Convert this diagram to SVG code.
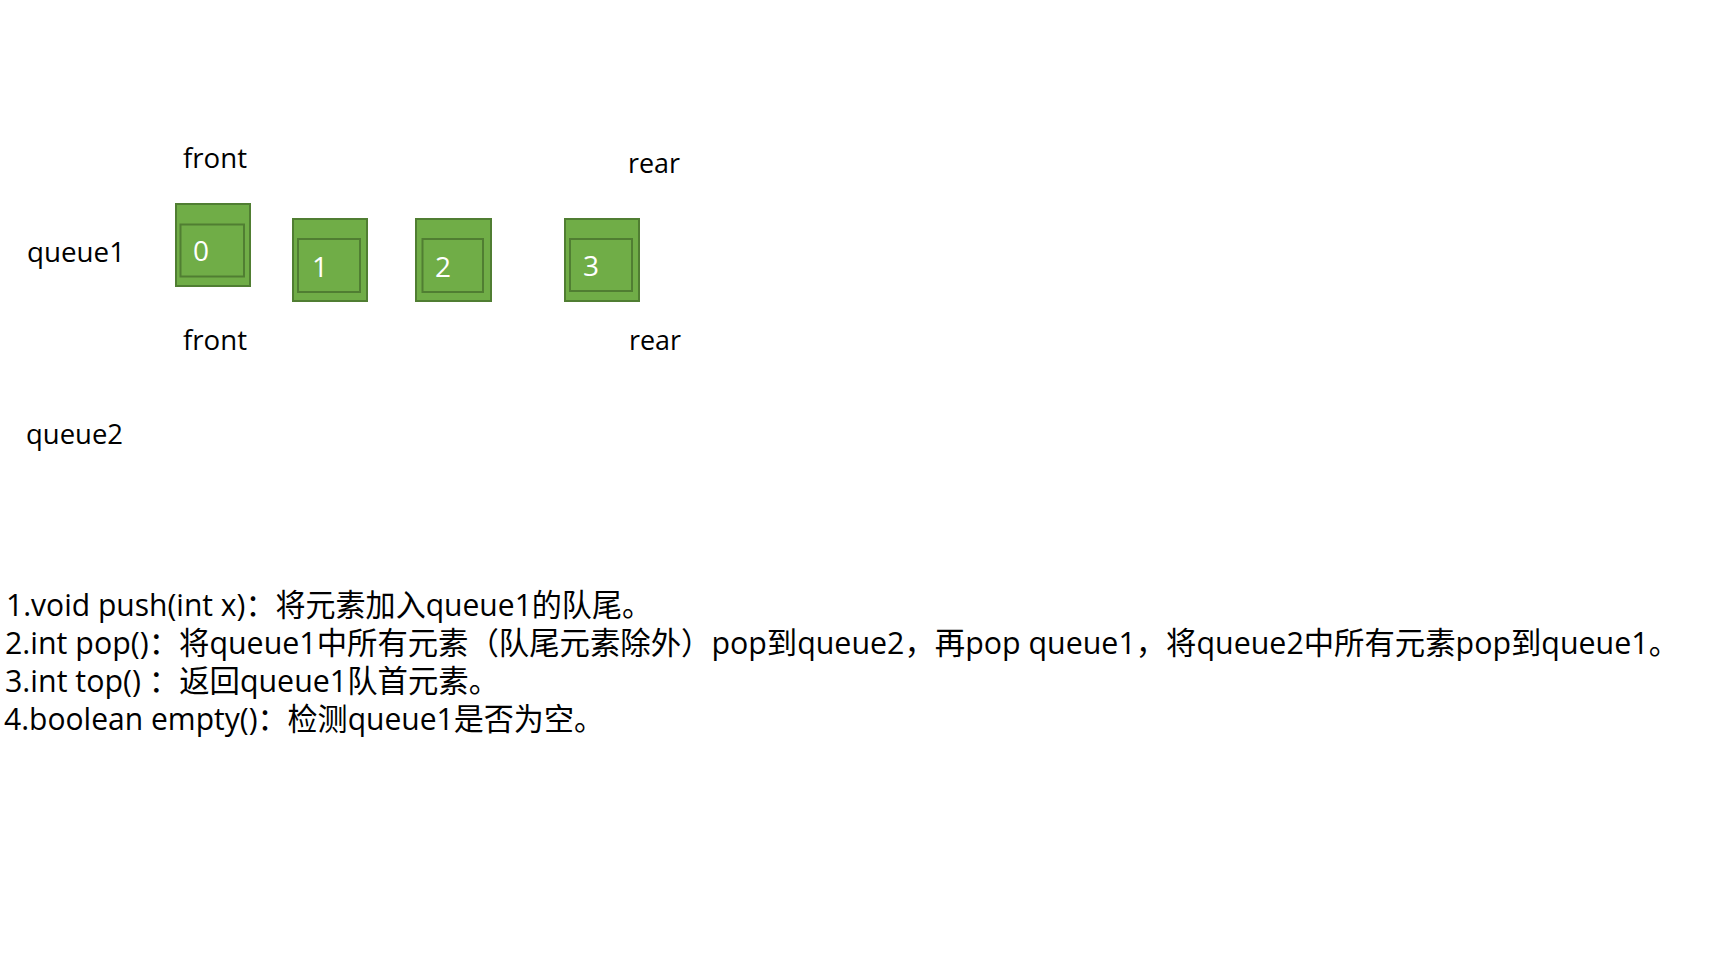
<svg xmlns="http://www.w3.org/2000/svg" width="1714" height="967" viewBox="0 0 1714 967">
<style>
text{font-family:"Open Sans","Noto Sans CJK SC",sans-serif;fill:#000}
.lbl{font-size:28px}
.line{font-size:31px}
.outer{fill:#70AD47;stroke:#507E32;stroke-width:2}
.inner{fill:#70AD47;stroke:#507E32;stroke-width:2}
.num{font-size:28px;fill:#fff}
</style>
<rect width="1714" height="967" fill="#fff"/>
<g id="labels">
<text class="lbl" x="183" y="168" textLength="64" lengthAdjust="spacingAndGlyphs">front</text>
<text class="lbl" x="628" y="173" textLength="52" lengthAdjust="spacingAndGlyphs">rear</text>
<text class="lbl" x="183" y="350" textLength="64" lengthAdjust="spacingAndGlyphs">front</text>
<text class="lbl" x="629" y="350" textLength="52" lengthAdjust="spacingAndGlyphs">rear</text>
<text class="lbl" x="27" y="262" textLength="98" lengthAdjust="spacingAndGlyphs">queue1</text>
<text class="lbl" x="26" y="444" textLength="97" lengthAdjust="spacingAndGlyphs">queue2</text>
</g>
<g id="node0">
<rect class="outer" x="176" y="204" width="74" height="82"/>
<rect class="inner" x="180.5" y="224.5" width="63.5" height="52"/>
<text class="num" x="193" y="261">0</text>
</g>
<g id="node1">
<rect class="outer" x="293" y="219" width="74" height="82"/>
<rect class="inner" x="298" y="239" width="62" height="53"/>
<text class="num" x="312" y="277">1</text>
</g>
<g id="node2">
<rect class="outer" x="416" y="219" width="75" height="82"/>
<rect class="inner" x="422.5" y="239" width="60.5" height="53"/>
<text class="num" x="435" y="277">2</text>
</g>
<g id="node3">
<rect class="outer" x="565" y="219" width="74" height="82"/>
<rect class="inner" x="570" y="239" width="62" height="52"/>
<text class="num" x="583" y="276">3</text>
</g>
<g id="connectors"></g>
<g id="notes">
<text class="line" x="6" y="616" textLength="646" lengthAdjust="spacingAndGlyphs">1.void push(int x)：将元素加入queue1的队尾。</text>
<text class="line" x="5" y="654" textLength="1674" lengthAdjust="spacingAndGlyphs">2.int pop()：将queue1中所有元素（队尾元素除外）pop到queue2，再pop queue1，将queue2中所有元素pop到queue1。</text>
<text class="line" x="5" y="692" textLength="494" lengthAdjust="spacingAndGlyphs">3.int top() ：返回queue1队首元素。</text>
<text class="line" x="4" y="730" textLength="600" lengthAdjust="spacingAndGlyphs">4.boolean empty()：检测queue1是否为空。</text>
</g>
</svg>
